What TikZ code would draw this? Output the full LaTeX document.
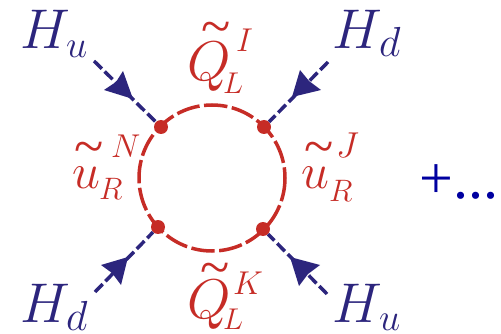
\documentclass[tikz,border=0pt]{standalone}
\usepackage{fix-cm}
\usepackage{fontspec}
\setmainfont{Liberation Serif}
\definecolor{blu}{RGB}{44,37,125}
\definecolor{rd}{RGB}{198,44,38}
\definecolor{plusb}{RGB}{0,0,160}
\newcommand{\fsz}[1]{\fontsize{#1}{#1}\selectfont}
% a piece of a label, placed at an offset from the label's origin
\newcommand{\place}[4]{\rlap{\kern#1pt\raisebox{#2pt}{\fsz{#3}#4}}}
\newcommand{\tld}[2]{\place{#1}{#2}{54}{\textasciitilde}}
\tikzset{x=1pt,y=-1pt,
 scalar/.style={draw=blu,line width=3.5pt,dash pattern=on 11pt off 4pt},
 tip/.style={fill=blu,draw=none},
 loopline/.style={draw=rd,line width=3.5pt,dash pattern=on 23.5pt off 4.5pt},
 vtx/.style={circle,fill=rd,draw=none,minimum size=14pt,inner sep=0pt},
 lab/.style={inner sep=0pt,anchor=base west},
 bl/.style={lab,text=blu,font=\fsz{56}},
 rl/.style={lab,text=rd,font=\fsz{56}},
 ru/.style={lab,text=rd,font=\fsz{50}}}
\begin{document}
\begin{tikzpicture}
\useasboundingbox (0,0) rectangle (501,334);
\coordinate (c) at (212,178);
\draw[loopline] (c) circle (73);
\node[vtx] (v1) at (161,127) {};
\node[vtx] (v2) at (264,127) {};
\node[vtx] (v3) at (158,227) {};
\node[vtx] (v4) at (263,229) {};
\coordinate (e1) at (94,61);
\coordinate (e2) at (328,62);
\coordinate (e3) at (95,292);
\coordinate (e4) at (327,294);
\draw[scalar] (e1) -- (v1);
\draw[scalar] (e2) -- (v2);
\draw[scalar] (e3) -- (v3);
\draw[scalar] (e4) -- (v4);
\fill[tip] (133,99) -- (104,90) -- (116,82) -- (123,71) -- cycle;
\fill[tip] (292,97) -- (321,90) -- (309,81) -- (300,70) -- cycle;
\fill[tip] (128,257) -- (101,265) -- (112,273) -- (121,285) -- cycle;
\fill[tip] (290,257) -- (320,265) -- (308,274) -- (299,286) -- cycle;
\node[bl] (t1) at (20,49) {\place{46}{-9}{38}{$u$}$H$};
\node[bl] (t2) at (332,49) {\place{47}{-8}{42}{$d$}$H$};
\node[bl] (t3) at (20,322) {\place{46}{-8}{42}{$d$}$H$};
\node[bl] (t4) at (332,322) {\place{47}{-8}{38}{$u$}$H$};
\node[rl] (q1) at (187,81) {\tld{14}{36}\place{36}{-13}{30}{$L$}\place{49}{29}{33}{$I$}$Q$};
\node[rl] (q2) at (187,318) {\tld{13}{33}\place{36}{-11}{30}{$L$}\place{46}{24}{33}{$K$}$Q$};
\node[ru] (u1) at (72,189) {\tld{2}{24}\place{27}{-11}{31}{$R$}\place{39}{31}{33}{$N$}$u$};
\node[ru] (u2) at (301,189) {\tld{3}{24}\place{28}{-13}{31}{$R$}\place{35}{31}{36}{$J$}$u$};
\node[lab,text=plusb,font=\fsz{60}] (p) at (419,199) {+...};
\end{tikzpicture}
\end{document}
